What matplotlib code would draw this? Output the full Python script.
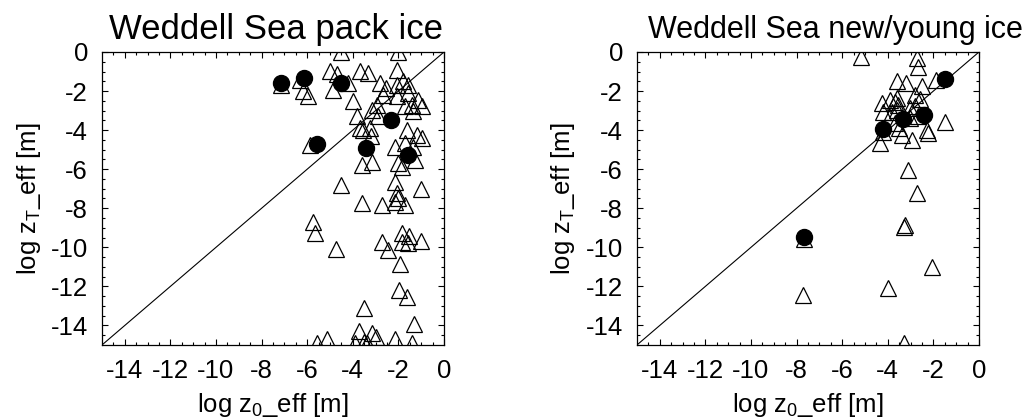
import matplotlib
matplotlib.use('Agg')
from matplotlib import pyplot as plt

plt.rcParams['font.family'] = ['Liberation Sans', 'DejaVu Sans']
plt.rcParams['mathtext.fontset'] = 'custom'
plt.rcParams['mathtext.rm'] = 'Liberation Sans'
plt.rcParams['mathtext.it'] = 'Liberation Sans'

# Weddell Sea pack ice: log z0_eff vs log zT_eff
pack_tri_x = [-4.52, -2.0, -5.0, -4.7, -6.32, -6.17, -5.95, -7.15, -4.85, -4.2,
              -3.68, -3.35, -2.08, -2.81, -2.08, -1.56, -1.78, -3.98, -2.66, -2.54,
              -2.08, -1.56, -1.13, -0.98, -1.71, -1.42, -1.35, -2.95, -3.83, -3.17,
              -2.88, -3.68, -3.25, -3.57, -3.2, -1.64, -1.2, -0.98, -5.88, -2.15,
              -1.71, -1.35, -3.61, -3.17, -2.0, -1.86, -1.27, -4.52, -2.15, -1.01,
              -2.08, -2.0, -2.15, -1.71, -3.58, -2.73, -5.73, -5.66, -4.75, -2.73,
              -2.44, -1.83, -1.54, -1.83, -1.56, -1.01, -1.93, -1.97, -1.64, -3.49,
              -1.32, -3.71, -3.14, -3.0, -3.5, -2.15, -5.15, -5.56, -1.42, -3.9,
              -3.39]
pack_tri_y = [0.0, 0.0, -0.99, -1.15, -1.42, -2.01, -2.27, -1.68, -1.93, -1.59,
              -0.99, -1.08, -0.91, -1.59, -1.67, -1.67, -1.5, -2.53, -2.18, -1.86,
              -2.27, -2.1, -2.44, -2.78, -2.78, -2.71, -3.04, -2.7, -3.29, -2.95,
              -3.29, -3.89, -3.89, -4.0, -4.3, -3.98, -4.23, -4.42, -4.76, -4.85,
              -4.68, -4.85, -5.79, -5.62, -5.7, -5.87, -5.53, -6.81, -6.64, -7.03,
              -7.24, -7.49, -7.66, -7.83, -7.75, -7.83, -8.69, -9.28, -10.1, -9.71,
              -10.14, -9.28, -9.42, -9.71, -9.76, -9.66, -10.86, -12.19, -12.53, -13.12,
              -13.93, -14.27, -14.4, -14.57, -14.85, -14.71, -14.71, -14.88, -14.9, -14.9,
              -14.92]
pack_dot_x = [-7.15, -6.13, -4.52, -5.58, -2.32, -3.43, -1.59]
pack_dot_y = [-1.59, -1.33, -1.59, -4.71, -3.47, -4.93, -5.27]

# Weddell Sea new/young ice
new_tri_x = [-5.19, -2.73, -2.66, -3.58, -3.2, -2.51, -1.89, -2.81, -3.61, -3.9,
             -4.27, -3.68, -3.54, -2.59, -2.81, -4.2, -3.83, -3.03, -3.58, -2.66,
             -3.03, -1.49, -3.68, -2.3, -2.22, -3.39, -3.5, -2.95, -4.34, -4.2,
             -3.1, -2.73, -3.29, -3.25, -2.07, -4.0, -7.73, -3.29, -7.66]
new_tri_y = [-0.24, -0.32, -0.78, -1.5, -1.6, -1.72, -1.44, -2.2, -2.37, -2.45,
             -2.6, -2.55, -2.71, -2.4, -2.78, -3.06, -3.06, -2.88, -2.95, -3.29,
             -3.4, -3.57, -3.65, -3.99, -4.16, -4.25, -3.9, -4.51, -4.68, -4.1,
             -6.04, -7.24, -8.94, -8.88, -10.99, -12.1, -12.44, -14.9, -9.55]
new_dot_x = [-1.49, -2.41, -3.32, -4.2, -7.66]
new_dot_y = [-1.4, -3.23, -3.45, -3.96, -9.46]

titles = ['Weddell Sea pack ice', 'Weddell Sea new/young ice']
tick_vals = [-14, -12, -10, -8, -6, -4, -2, 0]
tick_labels = ['-14', '-12', '-10', '-8', '-6', '-4', '-2', '0']

fig = plt.figure(figsize=(10.29, 4.2), dpi=100)
ax1 = fig.add_axes([0.0991, 0.1786, 0.3324, 0.6976])
ax2 = fig.add_axes([0.6190, 0.1786, 0.3324, 0.6976])

panels = [(ax1, pack_tri_x, pack_tri_y, pack_dot_x, pack_dot_y),
          (ax2, new_tri_x, new_tri_y, new_dot_x, new_dot_y)]

for i, (ax, tx, ty, dx, dy) in enumerate(panels):
    ax.plot([-15, 0], [-15, 0], color='black', lw=0.8)
    ax.plot(tx, ty, linestyle='none', marker='^', ms=11, mfc='none',
            mec='black', mew=0.9)
    ax.plot(dx, dy, linestyle='none', marker='o', ms=11.5, color='black')
    ax.set_xlim(-15, 0)
    ax.set_ylim(-15, 0)
    ax.set_xticks(tick_vals)
    ax.set_xticklabels(tick_labels)
    ax.set_yticks(tick_vals)
    ax.set_yticklabels(tick_labels)
    ax.set_xticks([v / 2 for v in range(-29, 0)], minor=True)
    ax.set_yticks([v / 2 for v in range(-29, 0)], minor=True)
    ax.tick_params(which='both', direction='in', top=True, right=True,
                   width=0.8, labelsize=18.5)
    ax.tick_params(which='major', length=4.5, pad=10)
    ax.tick_params(which='minor', length=2.2)
    for s in ax.spines.values():
        s.set_linewidth(0.9)
    ax.set_xlabel('log z$_0$_eff [m]', fontsize=18.5, labelpad=6)
    ax.set_ylabel('log z$_T$_eff [m]', fontsize=18.5, labelpad=6)

# titles: left one centred, right one runs to the figure edge
ax1.set_title(titles[0], fontsize=25, pad=9, x=0.51)
ax2.set_title(titles[1], fontsize=22, pad=10, x=0.58)

plt.savefig('out.png', dpi=100)
